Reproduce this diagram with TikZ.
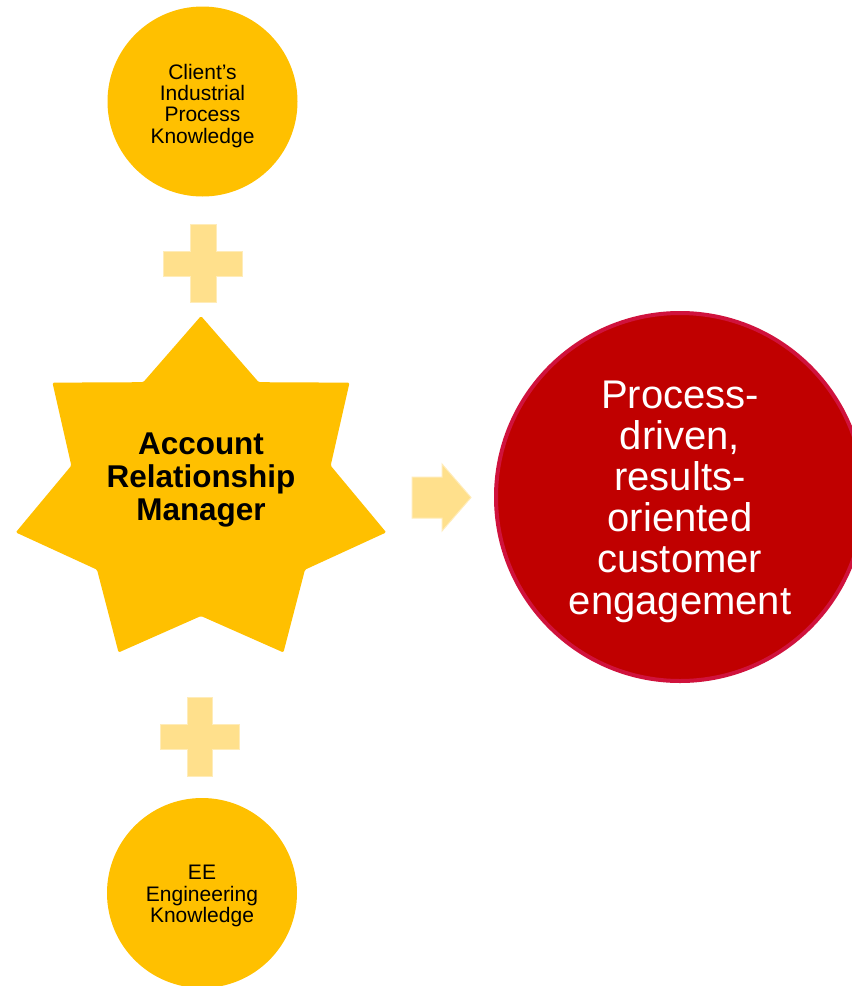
\documentclass[tikz,border=0pt]{standalone}
\usepackage{fontspec}
\setmainfont{Liberation Sans}
\usepackage{tikz}
\usetikzlibrary{shapes,calc}

\definecolor{gold}{RGB}{255,192,0}
\definecolor{paleGold}{RGB}{255,224,140}
\definecolor{paleEdge}{RGB}{255,236,185}
\definecolor{darkRed}{RGB}{192,0,0}
\definecolor{crimson}{RGB}{208,18,60}

\tikzset{
  knowtext/.style={align=center, font=\fontsize{15.75pt}{15.8pt}\selectfont},
  resulttext/.style={align=center, text=white,
    font=\fontsize{30pt}{30.9pt}\selectfont},
  armtext/.style={align=center, font=\fontsize{23.6pt}{24.75pt}\selectfont\bfseries},
  pale/.style={fill=paleGold, draw=paleEdge, line width=0.75pt}
}

\begin{document}
\begin{tikzpicture}[y=0.75pt, x=0.75pt, yscale=-1, inner sep=0pt, outer sep=0pt]
  \fill[white] (0,0) rectangle (851,986);
  \useasboundingbox (0,0) rectangle (851,986);

  % the two knowledge circles (text set a little below centre)
  \path[fill=gold] (202.5,101.5) circle (95);
  \node[knowtext] (client) at (202.5,106)
    {Client’s\\Industrial\\Process\\Knowledge};
  \path[fill=gold] (202,893) circle (95);
  \node[knowtext] (eng) at (202,896) {EE\\Engineering\\Knowledge};

  % plus signs
  \path[pale] (190,224) -- (216,224) -- (216,251) -- (242,251) -- (242,276) --
    (216,276) -- (216,302) -- (190,302) -- (190,276) -- (163,276) --
    (163,251) -- (190,251) -- cycle;
  \path[pale] (187,697) -- (212,697) -- (212,724) -- (239,724) -- (239,749) --
    (212,749) -- (212,776) -- (187,776) -- (187,749) -- (160,749) --
    (160,724) -- (187,724) -- cycle;

  % seven pointed star
  \begin{scope}[shift={(201,493)}]
    \path[fill=gold, rounded corners=1pt] (-90:190 and 177)
      \foreach \k in {0,...,5} {
        -- ({-90+25.714+\k*51.429}:133 and 123)
        -- ({-90+(\k+1)*51.429}:190 and 177)
      } -- ({-90+25.714+6*51.429}:133 and 123) -- cycle;
  \end{scope}
  \node[armtext] (arm) at (201,480) {Account\\Relationship\\Manager};

  % block arrow
  \path[pale] (412,477) -- (442,477) -- (442,464) -- (471,497.5) --
    (442,531) -- (442,518) -- (412,518) -- cycle;

  \path[fill=darkRed, draw=crimson, line width=3pt] (680,497) circle (184);
  \node[resulttext] (result) at (680,501.5)
    {Process-\\driven,\\results-\\oriented\\customer\\engagement};
\end{tikzpicture}
\end{document}
